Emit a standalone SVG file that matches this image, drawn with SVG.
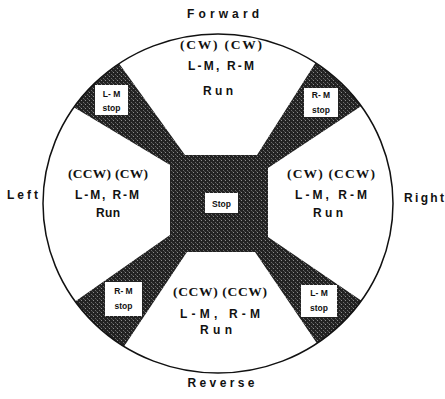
<svg xmlns="http://www.w3.org/2000/svg" width="445" height="399" viewBox="0 0 445 399">
<style>
.lbl{font-family:"Liberation Sans",Arial,sans-serif;font-weight:bold;font-size:12px;fill:#111;text-anchor:middle}
.dir{font-family:"Liberation Serif","Times New Roman",serif;font-weight:bold;font-size:13.5px;fill:#111;text-anchor:middle}
.sm{font-family:"Liberation Sans",Arial,sans-serif;font-weight:bold;font-size:8.5px;fill:#111;text-anchor:middle}
.box{fill:#fff;stroke:none}
</style>
<defs>
<clipPath id="circ"><ellipse cx="218" cy="203.5" rx="175" ry="169.5"/></clipPath>
<pattern id="stip" width="4" height="4" patternUnits="userSpaceOnUse">
<rect width="4" height="4" fill="#222"/>
<rect x="1" y="0" width="1" height="1" fill="#8c8c8c"/>
<rect x="3" y="2" width="1" height="1" fill="#6a6a6a"/>
<rect x="0" y="3" width="1" height="1" fill="#4a4a4a"/>
</pattern>
</defs>
<g id="wheel">
<ellipse cx="218" cy="203.5" rx="175" ry="169.5" fill="#fff"/>
<polygon clip-path="url(#circ)" fill="url(#stip)" points="40,87 100,37 185,155 257,155 330,40 405,77 268,168 268,237 406,331 335,370 255,252 187,252 105,375 30,333 170,235 170,165"/>
<ellipse cx="218" cy="203.5" rx="175" ry="169.5" fill="none" stroke="#111" stroke-width="1.5"/>
</g>
<g id="center-stop">
<rect class="box" x="205" y="193" width="33" height="20"/>
<text class="sm" x="221.5" y="207">Stop</text>
</g>
<g id="forward-region">
<text class="dir" x="221" y="49" textLength="82" lengthAdjust="spacing">(CW) (CW)</text>
<text class="lbl" x="221" y="70" textLength="66" lengthAdjust="spacing">L-M, R-M</text>
<text class="lbl" x="218" y="95" textLength="30" lengthAdjust="spacing">Run</text>
</g>
<g id="left-region">
<text class="dir" x="108" y="178" textLength="80" lengthAdjust="spacing">(CCW) (CW)</text>
<text class="lbl" x="107" y="199" textLength="64" lengthAdjust="spacing">L-M, R-M</text>
<text class="lbl" x="108" y="217" textLength="24" lengthAdjust="spacing">Run</text>
</g>
<g id="right-region">
<text class="dir" x="331" y="178" textLength="88" lengthAdjust="spacing">(CW) (CCW)</text>
<text class="lbl" x="331" y="199" textLength="72" lengthAdjust="spacing">L-M, R-M</text>
<text class="lbl" x="328" y="217" textLength="30" lengthAdjust="spacing">Run</text>
</g>
<g id="reverse-region">
<text class="dir" x="220" y="296" textLength="94" lengthAdjust="spacing">(CCW) (CCW)</text>
<text class="lbl" x="220" y="318" textLength="80" lengthAdjust="spacing">L-M, R-M</text>
<text class="lbl" x="216" y="334" textLength="32" lengthAdjust="spacing">Run</text>
</g>
<g id="tl-stop">
<rect class="box" x="95" y="85" width="33" height="30"/>
<text class="sm" x="111.5" y="97">L- M</text>
<text class="sm" x="111.5" y="111">stop</text>
</g>
<g id="tr-stop">
<rect class="box" x="304" y="88" width="34" height="29"/>
<text class="sm" x="321" y="98">R- M</text>
<text class="sm" x="321" y="113">stop</text>
</g>
<g id="bl-stop">
<rect class="box" x="105" y="282" width="37" height="34"/>
<text class="sm" x="123.5" y="294">R- M</text>
<text class="sm" x="123.5" y="309">stop</text>
</g>
<g id="br-stop">
<rect class="box" x="301" y="285" width="36" height="32"/>
<text class="sm" x="319" y="296">L- M</text>
<text class="sm" x="319" y="311">stop</text>
</g>
<g id="directions">
<text class="lbl" x="223" y="18" textLength="72" lengthAdjust="spacing">Forward</text>
<text class="lbl" x="22.5" y="199" textLength="31" lengthAdjust="spacing">Left</text>
<text class="lbl" x="424" y="202" textLength="40" lengthAdjust="spacing">Right</text>
<text class="lbl" x="221" y="387" textLength="67" lengthAdjust="spacing">Reverse</text>
</g>
<g id="connectors"></g>
</svg>
